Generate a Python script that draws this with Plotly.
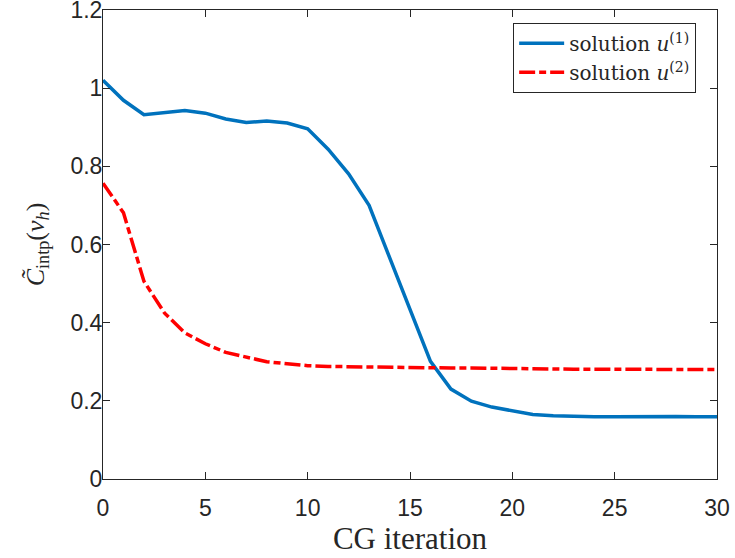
import plotly.graph_objects as go

iterations = list(range(0, 31))
sol1 = [1.020, 0.969, 0.932, 0.938, 0.943, 0.936, 0.921, 0.912, 0.916, 0.911,
        0.896, 0.844, 0.781, 0.700, 0.567, 0.434, 0.301, 0.230, 0.199, 0.184,
        0.174, 0.165, 0.162, 0.160, 0.159, 0.159, 0.160, 0.160, 0.160, 0.159, 0.159]
sol2 = [0.757, 0.681, 0.506, 0.425, 0.374, 0.346, 0.324, 0.311, 0.300, 0.295,
        0.290, 0.288, 0.287, 0.286, 0.286, 0.285, 0.285, 0.284, 0.284, 0.283,
        0.283, 0.282, 0.282, 0.281, 0.281, 0.281, 0.281, 0.280, 0.280, 0.280, 0.280]
xticks = [0, 5, 10, 15, 20, 25, 30]
yticks = [0, 0.2, 0.4, 0.6, 0.8, 1.0, 1.2]
ytick_text = ["0", "0.2", "0.4", "0.6", "0.8", "1", "1.2"]

serif = "Liberation Serif, DejaVu Serif, serif"
sans = "Liberation Sans, Arial, sans-serif"
axcol = "#262626"

fig = go.Figure()
fig.add_trace(go.Scatter(x=iterations, y=sol1, mode="lines",
                         line=dict(color="#0072BD", width=3.5),
                         name="solution <i>u</i><sup>(1)</sup>"))
fig.add_trace(go.Scatter(x=iterations, y=sol2, mode="lines",
                         line=dict(color="#FF0000", width=3.5, dash="16px,4px,7px,4px"),
                         name="solution <i>u</i><sup>(2)</sup>"))

axis_common = dict(showline=True, linecolor=axcol, linewidth=1, mirror="ticks",
                   ticks="inside", ticklen=7, tickcolor=axcol, showgrid=False,
                   zeroline=False, automargin=False, ticklabeloverflow="allow",
                   tickfont=dict(family=sans, size=23, color=axcol))

fig.update_layout(
    width=735, height=558,
    margin=dict(l=103, r=18, t=10, b=79),
    plot_bgcolor="white", paper_bgcolor="white",
    xaxis=dict(range=[0, 30], tickvals=xticks, ticklabelstandoff=8, **axis_common,
               title=dict(text="CG iteration", font=dict(family=serif, size=31, color=axcol),
                          standoff=4)),
    yaxis=dict(range=[0, 1.2], tickvals=yticks, ticktext=ytick_text, ticklabelstandoff=-5,
               **axis_common,
               title=dict(text="<i>C\u0303</i><sub>intp</sub>(<i>v</i><sub><i>h</i></sub>)",
                          font=dict(family=serif, size=26, color=axcol), standoff=18)),
    legend=dict(x=0.668, y=0.973, xanchor="left", yanchor="top",
                bordercolor=axcol, borderwidth=1, bgcolor="white",
                font=dict(family="DejaVu Serif, serif", size=20, color=axcol),
                itemwidth=45, tracegroupgap=0),
    showlegend=True,
)

fig.write_html("out.html", config={"displayModeBar": False},
               post_script="document.body.style.margin='0';")
